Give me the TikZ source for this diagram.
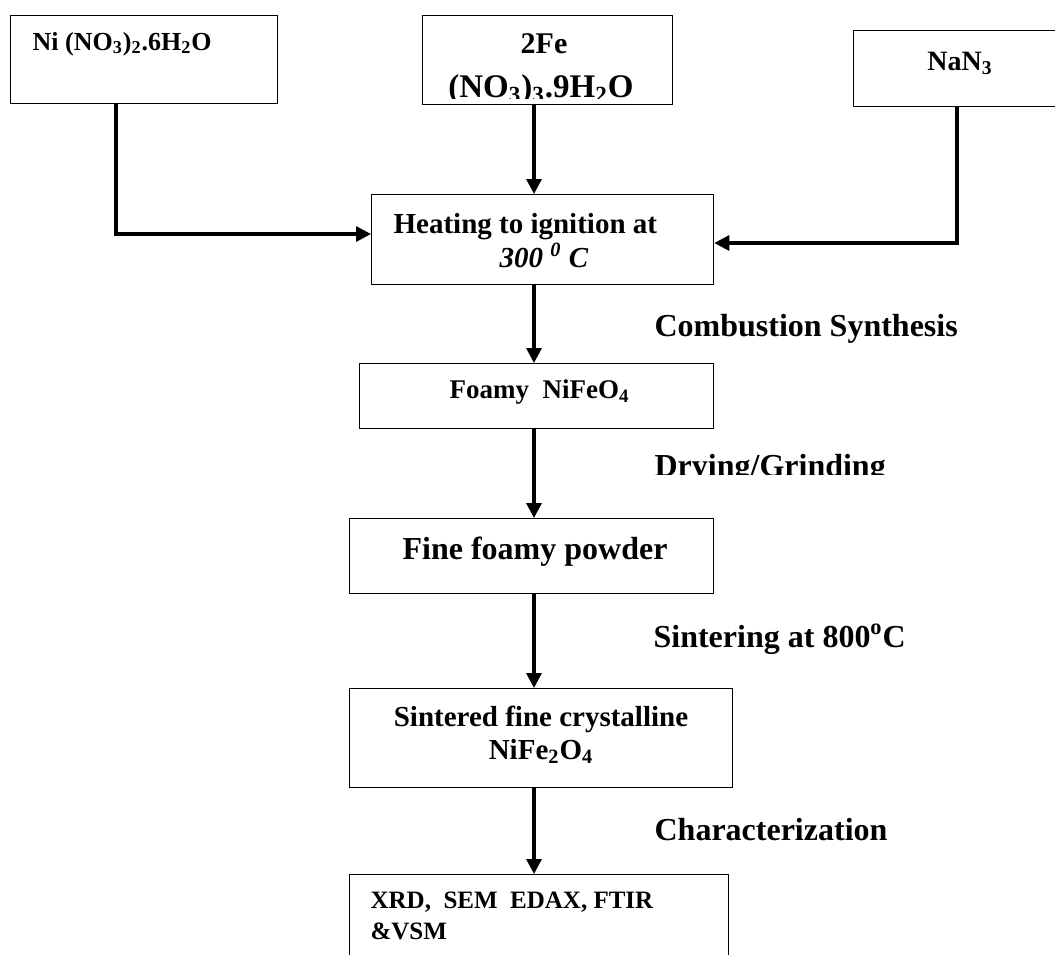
\documentclass[tikz,border=0pt]{standalone}
\usepackage{fontspec}
\setmainfont{Liberation Serif}
\usetikzlibrary{arrows.meta}
\tikzset{
  box/.style={draw,line width=0.65pt,anchor=north west,inner sep=0pt},
  txt/.style={anchor=base west,inner sep=0pt,font=\fontsize{#1}{#1}\selectfont\bfseries},
  txt/.default=16
}
\begin{document}
\begin{tikzpicture}[x=0.5pt,y=-0.5pt,line width=1.6pt,>={Triangle[length=7.5pt,width=7.5pt]}]
                \useasboundingbox (0,0) rectangle (1055,954);
                \node[box,minimum width=133.5pt,minimum height=44pt] (ni) at (10,15) {};
                \node[box,minimum width=125pt,minimum height=44.5pt] (fe) at (422,15) {};
                \node[box,minimum width=110pt,minimum height=38pt] (na) at (853,30) {};
                \node[box,minimum width=171pt,minimum height=45pt] (heat) at (371,194) {};
                \node[box,minimum width=177pt,minimum height=32.5pt] (foamy) at (359,363) {};
                \node[box,minimum width=182pt,minimum height=37.5pt] (fine) at (349,518) {};
                \node[box,minimum width=191.5pt,minimum height=49.5pt] (sint) at (349,688) {};
                \node[box,minimum width=189.5pt,minimum height=63pt] (xrd) at (349,874) {};
                \node[txt=13] (nitxt) at (31,50) {Ni (NO\textsubscript{3})\textsubscript{2}.6H\textsubscript{2}O};
                \node[txt=15,anchor=base] (fe1) at (544,53) {2Fe};
                \begin{scope}
                    \clip (408,60) rectangle (680,98);
                    \node[txt=16.5,anchor=base] (fe2) at (541,97) {(NO\textsubscript{3})\textsubscript{3}.9H\textsubscript{2}O};
                \end{scope}
                \node[txt=14,anchor=base] (natxt) at (960,70) {NaN\textsubscript{3}};
                \node[txt=14.5] (heat1) at (392,233) {Heating to ignition at};
                \node[txt=14.5] (heat2) at (498,267) {\itshape 300 \textsuperscript{0} C};
                \node[txt=13.5] (foamytxt) at (448,398) {Foamy\ \ NiFeO\textsubscript{4}};
                \node[txt=16] (finetxt) at (401,559) {Fine foamy powder};
                \node[txt=14.5,anchor=base] (sint1) at (541,726) {Sintered fine crystalline};
                \node[txt=14.5,anchor=base] (sint2) at (541,759) {NiFe\textsubscript{2}O\textsubscript{4}};
                \node[txt=12.5] (xrd1) at (369,908) {XRD,\ \ SEM\ \ EDAX, FTIR};
                \node[txt=12.5] (xrd2) at (369,939) {\&VSM};
                \node[txt] (comb) at (653,336) {Combustion Synthesis};
                \begin{scope}
                    \clip (640,440) rectangle (900,474);
                    \node[txt] (dry) at (653,476) {Drying/Grinding};
                \end{scope}
                \node[txt] (sinter) at (652,647) {Sintering at 800\textsuperscript{o}C};
                \node[txt] (charact) at (653,840) {Characterization};
                \coordinate (col) at (534,0);
                \coordinate (nicol) at (116,234);
                \coordinate (nacol) at (957,243);
                \draw[->] (ni.south -| nicol) |- (heat.west |- nicol);
                \draw[->] (na.south -| nacol) |- (heat.east |- nacol);
                \draw[->] (fe.south -| col) -- (heat.north -| col);
                \draw[->] (heat.south -| col) -- (foamy.north -| col);
                \draw[->] (foamy.south -| col) -- (fine.north -| col);
                \draw[->] (fine.south -| col) -- (sint.north -| col);
                \draw[->] (sint.south -| col) -- (xrd.north -| col);
            \end{tikzpicture}
\end{document}
